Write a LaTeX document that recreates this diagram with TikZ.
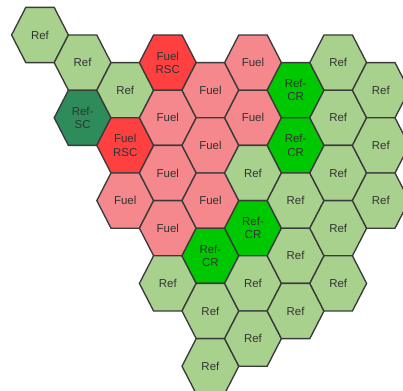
\documentclass[tikz,border=0pt]{standalone}
\usepackage{fontspec}
\setmainfont{Liberation Sans}
\definecolor{refc}{HTML}{A9D18E}
\definecolor{refsc}{HTML}{2E8B5A}
\definecolor{refcr}{HTML}{00C800}
\definecolor{fuelc}{HTML}{F4888C}
\definecolor{fuelrsc}{HTML}{FF4040}
\definecolor{edgec}{HTML}{3A3A3A}
\definecolor{txtc}{HTML}{333333}
\tikzset{
  cell/.style={draw=edgec, line width=1.0pt, line join=miter},
  lbl/.style={font=\fontsize{8.6}{10}\selectfont, text=txtc, align=center, inner sep=0pt},
}
\newcommand\hexcell[5]{%
  \coordinate (#1c) at (40+42.6*#2, 35+27.6*#3);
  \filldraw[cell, fill=#4, shift={(#1c)}] (-28.4,0) -- (-14.2,-27.6) -- (14.2,-27.6) -- (28.4,0) -- (14.2,27.6) -- (-14.2,27.6) -- cycle;
  \node[lbl] (#1) at (#1c) {#5};
}
\begin{document}
\begin{tikzpicture}[x=0.75pt,y=-0.75pt]
\useasboundingbox (0,0) rectangle (403,391);
% col 0
\hexcell{a0}{0}{0}{refc}{Ref}
% col 1
\hexcell{b1}{1}{1}{refc}{Ref}
\hexcell{b3}{1}{3}{refsc}{Ref-\\SC}
% col 2
\hexcell{c2}{2}{2}{refc}{Ref}
\hexcell{c4}{2}{4}{fuelrsc}{Fuel\\RSC}
\hexcell{c6}{2}{6}{fuelc}{Fuel}
% col 3
\hexcell{d1}{3}{1}{fuelrsc}{Fuel\\RSC}
\hexcell{d3}{3}{3}{fuelc}{Fuel}
\hexcell{d5}{3}{5}{fuelc}{Fuel}
\hexcell{d7}{3}{7}{fuelc}{Fuel}
\hexcell{d9}{3}{9}{refc}{Ref}
% col 4
\hexcell{e2}{4}{2}{fuelc}{Fuel}
\hexcell{e4}{4}{4}{fuelc}{Fuel}
\hexcell{e6}{4}{6}{fuelc}{Fuel}
\hexcell{e8}{4}{8}{refcr}{Ref-\\CR}
\hexcell{e10}{4}{10}{refc}{Ref}
\hexcell{e12}{4}{12}{refc}{Ref}
% col 5
\hexcell{f1}{5}{1}{fuelc}{Fuel}
\hexcell{f3}{5}{3}{fuelc}{Fuel}
\hexcell{f5}{5}{5}{refc}{Ref}
\hexcell{f7}{5}{7}{refcr}{Ref-\\CR}
\hexcell{f9}{5}{9}{refc}{Ref}
\hexcell{f11}{5}{11}{refc}{Ref}
% col 6
\hexcell{g2}{6}{2}{refcr}{Ref-\\CR}
\hexcell{g4}{6}{4}{refcr}{Ref-\\CR}
\hexcell{g6}{6}{6}{refc}{Ref}
\hexcell{g8}{6}{8}{refc}{Ref}
\hexcell{g10}{6}{10}{refc}{Ref}
% col 7
\hexcell{h1}{7}{1}{refc}{Ref}
\hexcell{h3}{7}{3}{refc}{Ref}
\hexcell{h5}{7}{5}{refc}{Ref}
\hexcell{h7}{7}{7}{refc}{Ref}
\hexcell{h9}{7}{9}{refc}{Ref}
% col 8
\hexcell{i2}{8}{2}{refc}{Ref}
\hexcell{i4}{8}{4}{refc}{Ref}
\hexcell{i6}{8}{6}{refc}{Ref}
\end{tikzpicture}
\end{document}
